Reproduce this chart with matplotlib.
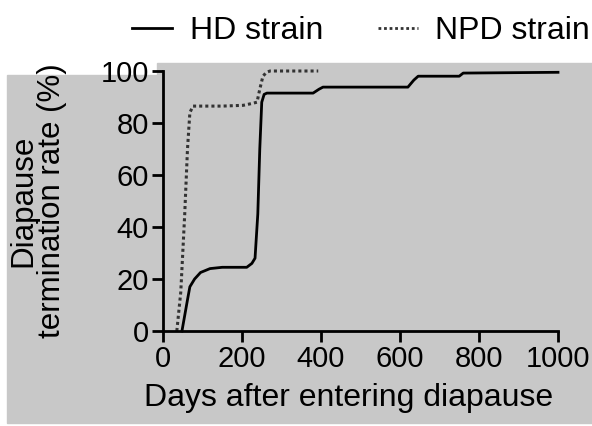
import matplotlib
matplotlib.use('Agg')
import matplotlib.pyplot as plt
from matplotlib.patches import Rectangle
from matplotlib.lines import Line2D

plt.rcParams['font.family'] = ['Liberation Sans', 'DejaVu Sans']

# HD strain (solid) cumulative termination curve
hd_days = [48, 55, 62, 68, 80, 95, 119, 150, 212, 225, 233, 240, 245, 250, 256, 263,
           380, 395, 405, 620, 635, 646, 750, 760, 1000]
hd_rate = [0, 6, 12, 17, 20, 22.5, 24, 24.5, 24.5, 26, 28, 45, 70, 88, 91, 91.5,
           91.5, 93, 93.8, 93.8, 96.5, 98, 98, 99.2, 99.5]

# NPD strain (dotted)
npd_days = [35, 45, 55, 62, 68, 76, 150, 203, 225, 238, 245, 253, 262, 271, 393]
npd_rate = [0, 15, 45, 70, 84, 86.5, 86.5, 86.8, 87.5, 88, 93, 98, 99.5, 100, 100]

x_ticks = [0, 200, 400, 600, 800, 1000]
y_ticks = [0, 20, 40, 60, 80, 100]

fig = plt.figure(figsize=(5.92, 4.26), dpi=100)
grey = '#c8c8c8'
fig.patches.append(Rectangle((7 / 592, 1 - 423 / 426), 1 - 7 / 592, (423 - 75) / 426,
                             transform=fig.transFigure, color=grey, zorder=-10))
fig.patches.append(Rectangle((157 / 592, 1 - 76 / 426), 1 - 157 / 592, 13 / 426,
                             transform=fig.transFigure, color=grey, zorder=-10))

ax = fig.add_axes([163 / 592, 1 - 331 / 426, 395 / 592, 260 / 426])
ax.patch.set_alpha(0)

ax.plot(hd_days, hd_rate, color='black', lw=2, ls='-', label='HD strain', clip_on=False)
ax.plot(npd_days, npd_rate, color='#333333', lw=2.2, ls=(0, (1, 1)), label='NPD strain',
        clip_on=False)

ax.set_xlim(0, 1000)
ax.set_ylim(0, 100)
ax.set_xticks(x_ticks)
ax.set_yticks(y_ticks)
ax.tick_params(labelsize=21, width=2, length=8, direction='out', pad=2)
for s in ['top', 'right']:
    ax.spines[s].set_visible(False)
for s in ['left', 'bottom']:
    ax.spines[s].set_linewidth(2)
ax.margins(0)

ax.set_xlabel('Days after entering diapause', fontsize=23)
ax.xaxis.set_label_coords(0.47, -0.2)
ax.set_ylabel('Diapause\ntermination rate (%)', fontsize=22.5, labelpad=24, linespacing=0.95)

handles = [Line2D([], [], color='black', lw=2, ls='-'),
           Line2D([], [], color='#333333', lw=2, ls=(0, (1, 1)))]
fig.legend(handles, ['HD strain', 'NPD strain'], loc='upper right',
           bbox_to_anchor=(1.045, 1.03), ncol=2, frameon=False, fontsize=23,
           handlelength=1.25, columnspacing=1.7, handletextpad=0.55)

fig.savefig('out.png', dpi=100, facecolor='white')
